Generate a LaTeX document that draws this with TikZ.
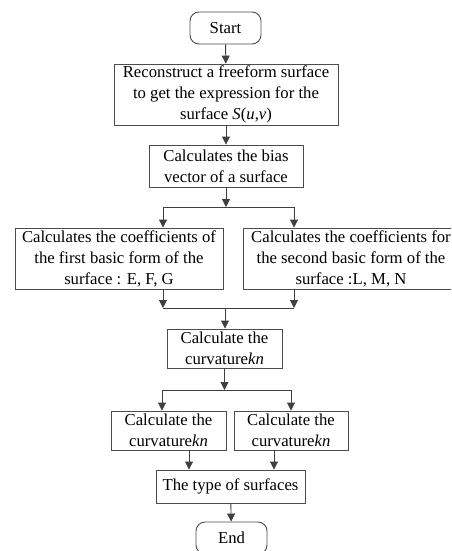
\documentclass[tikz,border=0pt]{standalone}
\usepackage{fontspec}
\setmainfont{Liberation Serif}
\usetikzlibrary{arrows.meta}

\begin{document}
\begin{tikzpicture}[x=1pt,y=-1pt,
  every node/.style={font=\fontsize{16.7}{21}\selectfont},
  box/.style={draw=black!70, line width=0.9pt, align=center, inner sep=0pt},
  term/.style={box, rounded corners=9pt, minimum width=71pt, minimum height=32pt},
  flow/.style={draw=black!75, line width=0.9pt},
  arr/.style={flow, -{Triangle[width=8pt,length=8pt]}}]
\clip (0,0) rectangle (451,551); \useasboundingbox (0,0) rectangle (451,551);

\node [term] (start) at (225.5,28) {Start};
\node [box, minimum width=224pt, minimum height=61pt] (recon) at (226,94.5) {Reconstruct a freeform surface\\to get the expression for the\\surface \textit{S}(\textit{u},\textit{v})};
\node [box, minimum width=154pt, minimum height=42pt] (bias) at (226,166) {Calculates the bias\\vector of a surface};
\node [box, minimum width=208pt, minimum height=61pt] (first) at (119,258.5) {Calculates the coefficients of\\the first basic form of the\\surface : E, F, G};
\node [box, minimum width=216pt, minimum height=61pt] (second) at (351,258.5) {Calculates the coefficients for\\the second basic form of the\\surface :L, M, N};
\node [box, minimum width=115pt, minimum height=39pt] (kn) at (224.5,348.5) {Calculate the\\curvature\textit{kn}};
\node [box, minimum width=115pt, minimum height=39pt] (knl) at (168.5,430.5) {Calculate the\\curvature\textit{kn}};
\node [box, minimum width=114pt, minimum height=39pt] (knr) at (291,430.5) {Calculate the\\curvature\textit{kn}};
\node [box, minimum width=149pt, minimum height=33pt] (type) at (230.5,486.5) {The type of surfaces};
\node [term] (end) at (231.5,538) {End};

% splits and joins
\coordinate (sa) at (163,207); \coordinate (sb) at (294,207);
\coordinate (ja) at (163,308); \coordinate (jb) at (294,308); \coordinate (jm) at (225,308);
\coordinate (ta) at (162,390); \coordinate (tb) at (291,390);

\draw [arr] (start) -- (recon);
\draw [arr] (recon) -- (bias);
\draw [arr] (bias) -- (bias.south |- sa);
\draw [flow] (sa) -- (sb);
\draw [arr] (sa) -- (sa |- first.north);
\draw [arr] (sb) -- (sb |- second.north);
\draw [arr] (ja |- first.south) -- (ja);
\draw [arr] (jb |- second.south) -- (jb);
\draw [flow] (ja) -- (jb);
\draw [arr] (jm) -- (jm |- kn.north);
\draw [arr] (kn) -- (kn.south |- ta);
\draw [flow] (ta) -- (tb);
\draw [arr] (ta) -- (ta |- knl.north);
\draw [arr] (tb) -- (tb |- knr.north);
\draw [arr] ([xshift=20.5pt]knl.south) -- ([xshift=20.5pt]knl.south |- type.north);
\draw [arr] ([xshift=-17pt]knr.south) -- ([xshift=-17pt]knr.south |- type.north);
\draw [arr] (type) -- (end);
\end{tikzpicture}
\end{document}
